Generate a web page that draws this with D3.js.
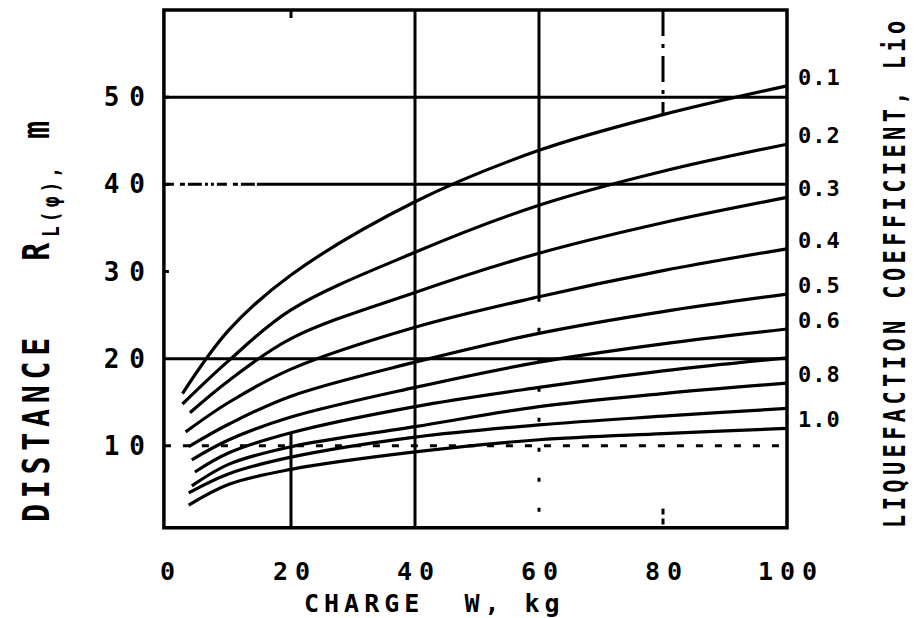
<!DOCTYPE html>
<html>
<head>
<meta charset="utf-8">
<script src="https://cdn.jsdelivr.net/npm/d3@7"></script>
<style>
  body { margin: 0; background: #fff; }
  svg text { font-family: "DejaVu Sans Mono", monospace; font-weight: bold; fill: #000; }
  .grid { stroke: #000; stroke-width: 3px; fill: none; }
  .curve { stroke: #000; stroke-width: 3.2px; fill: none; }
</style>
</head>
<body>
<script>
// charge W (kg) at which each curve was read
var charges = [[2.5, 10, 20, 40, 60, 80, 100],
               [2.5, 10, 20, 40, 60, 80, 100],
               [3.7, 10, 20, 40, 60, 80, 100],
               [3, 10, 20, 40, 60, 80, 100],
               [3.5, 10, 20, 40, 60, 80, 100],
               [4, 10, 20, 40, 60, 80, 100],
               [4.5, 10, 20, 40, 60, 80, 100],
               [4, 10, 20, 40, 60, 80, 100],
               [3.5, 10, 20, 40, 60, 80, 100],
               [3.5, 10, 20, 40, 60, 80, 100]];
// distance R (m) per liquefaction coefficient
var coeffs = [0.1, 0.2, 0.3, 0.4, 0.5, 0.6, 0.7, 0.8, 0.9, 1.0];
var distances = [[16.0, 23.3, 29.6, 38.0, 43.9, 48.0, 51.3],
                 [14.8, 19.8, 25.6, 32.2, 37.6, 41.5, 44.6],
                 [13.8, 17.5, 22.3, 27.6, 32.1, 35.6, 38.5],
                 [11.6, 15.0, 18.8, 23.6, 27.1, 30.1, 32.6],
                 [9.9, 12.5, 15.7, 19.6, 22.9, 25.4, 27.4],
                 [8.4, 10.7, 13.3, 16.7, 19.6, 21.7, 23.4],
                 [7.0, 9.2, 11.5, 14.5, 16.7, 18.6, 20.1],
                 [5.4, 7.9, 9.9, 12.2, 14.5, 16.0, 17.2],
                 [4.6, 6.8, 8.7, 11.0, 12.4, 13.4, 14.3],
                 [3.2, 5.6, 7.3, 9.3, 10.7, 11.4, 12.0]];
// labels printed at the right edge (0.7 and 0.9 are unlabelled)
var rightLabels = ["0.1", "0.2", "0.3", "0.4", "0.5", "0.6", "", "0.8", "", "1.0"];
var xTicks = [0, 20, 40, 60, 80, 100];
var yTicks = [10, 20, 30, 40, 50];

var width = 916, height = 618;

var svg = d3.select("body").append("svg")
	.attr("width", width)
	.attr("height", height);

var x = d3.scaleLinear().domain([0, 100]).range([167, 787]);
var y = d3.scaleLinear().domain([0, 60]).range([533, 10]);

// frame edges (note: "top" is taken by window.top)
var pLeft = x(-0.5), pRight = x(100), pTop = y(60), pBottom = y(0.6);

// horizontal grid lines
svg.append("line").attr("class", "grid")
	.attr("x1", pLeft).attr("x2", pRight).attr("y1", y(50)).attr("y2", y(50));
svg.append("line").attr("class", "grid")
	.attr("x1", pLeft).attr("x2", x(14.5)).attr("y1", y(40)).attr("y2", y(40))
	.attr("stroke-dasharray", "10,6,5,3,14,3,3,3,3,3");
svg.append("line").attr("class", "grid")
	.attr("x1", x(14.5)).attr("x2", pRight).attr("y1", y(40)).attr("y2", y(40));
svg.append("line").attr("class", "grid")
	.attr("x1", pLeft).attr("x2", pRight).attr("y1", y(20)).attr("y2", y(20));
svg.append("line").attr("class", "grid")
	.attr("x1", pLeft).attr("x2", pRight).attr("y1", y(10)).attr("y2", y(10))
	.attr("stroke-dasharray", "7,12");

// vertical grid lines
svg.append("line").attr("class", "grid")
	.attr("x1", x(20)).attr("x2", x(20)).attr("y1", pBottom).attr("y2", y(11.5));
svg.append("line").attr("class", "grid")
	.attr("x1", x(20)).attr("x2", x(20)).attr("y1", pTop).attr("y2", pTop + 8);
svg.append("line").attr("class", "grid")
	.attr("x1", x(40)).attr("x2", x(40)).attr("y1", pTop).attr("y2", pBottom);
svg.append("line").attr("class", "grid")
	.attr("x1", x(60)).attr("x2", x(60)).attr("y1", pTop).attr("y2", y(27));
svg.append("line").attr("class", "grid")
	.attr("x1", x(60)).attr("x2", x(60)).attr("y1", y(27)).attr("y2", pBottom)
	.attr("stroke-dasharray", "4,26");
svg.append("line").attr("class", "grid")
	.attr("x1", x(80)).attr("x2", x(80)).attr("y1", pTop).attr("y2", y(48))
	.attr("stroke-dasharray", "26,8,4,8");
svg.append("line").attr("class", "grid")
	.attr("x1", x(80)).attr("x2", x(80)).attr("y1", y(2.8)).attr("y2", pBottom)
	.attr("stroke-dasharray", "6,4");

// small ticks on the left axis
svg.selectAll(".ytick").data([30, 40, 50]).enter().append("line")
	.attr("class", "grid")
	.attr("x1", pLeft).attr("x2", pLeft + 5)
	.attr("y1", function(d) { return y(d); })
	.attr("y2", function(d) { return y(d); });

// frame
svg.append("rect")
	.attr("x", pLeft).attr("y", pTop)
	.attr("width", pRight - pLeft).attr("height", pBottom - pTop)
	.attr("fill", "none").attr("stroke", "#000").attr("stroke-width", 3.5);

// curves
var line = d3.line()
	.x(function(d) { return x(d[0]); })
	.y(function(d) { return y(d[1]); })
	.curve(d3.curveCatmullRom.alpha(0.5));

svg.selectAll(".curve").data(coeffs).enter().append("path")
	.attr("class", "curve")
	.attr("d", function(c, i) {
		return line(charges[i].map(function(w, j) { return [w, distances[i][j]]; }));
	});

// right-hand coefficient labels
svg.selectAll(".rlab").data(coeffs).enter().append("text")
	.attr("x", pRight + 11)
	.attr("y", function(c, i) { return y(distances[i][distances[i].length - 1]) - 1; })
	.attr("font-size", 22)
	.attr("letter-spacing", 1)
	.text(function(c, i) { return rightLabels[i]; });

// x tick labels
svg.selectAll(".xlab").data(xTicks).enter().append("text")
	.attr("x", function(d) { return x(d) + 4; })
	.attr("y", 580)
	.attr("text-anchor", "middle")
	.attr("font-size", 25)
	.attr("letter-spacing", 7)
	.text(function(d) { return d; });

// y tick labels
svg.selectAll(".ylab").data(yTicks).enter().append("text")
	.attr("x", 155)
	.attr("y", function(d) { return y(d) + 9; })
	.attr("text-anchor", "end")
	.attr("font-size", 26)
	.attr("letter-spacing", 10)
	.text(function(d) { return d; });

// x axis title
svg.append("text")
	.attr("x", 304).attr("y", 612)
	.attr("font-size", 25)
	.attr("letter-spacing", 5)
	.attr("xml:space", "preserve")
	.text("CHARGE  W, kg");

// y axis title (stretched, like the blocky original lettering)
var yt = svg.append("text")
	.attr("transform", "translate(49,522) rotate(-90) scale(1,1.25)")
	.attr("font-size", 30)
	.attr("letter-spacing", 5.7)
	.attr("xml:space", "preserve");
yt.append("tspan").text("DISTANCE   R");
yt.append("tspan").attr("font-size", 18).attr("letter-spacing", 4).attr("dy", 8).text("L(φ),");
yt.append("tspan").attr("dy", -8).attr("letter-spacing", 5.7).text(" m");

// right title
svg.append("text")
	.attr("transform", "translate(905,528) rotate(-90) scale(1,1.35)")
	.attr("font-size", 22)
	.attr("letter-spacing", 4.4)
	.text("LIQUEFACTION COEFFICIENT, Lio");
</script>
</body>
</html>
